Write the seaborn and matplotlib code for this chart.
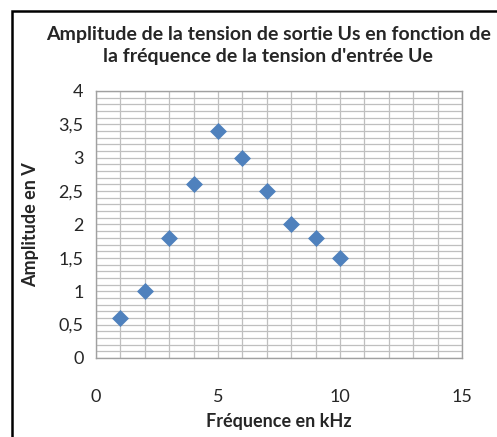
import matplotlib
matplotlib.use("Agg")
import matplotlib.pyplot as plt
from matplotlib.ticker import MultipleLocator, FuncFormatter
from matplotlib.patches import Rectangle
import pandas as pd
import seaborn as sns

frequence = [1, 2, 3, 4, 5, 6, 7, 8, 9, 10]
amplitude = [0.6, 1.0, 1.8, 2.6, 3.4, 3.0, 2.5, 2.0, 1.8, 1.5]

sns.set_style("white")
plt.rcParams['font.family'] = ['Lato', 'DejaVu Sans']

df = pd.DataFrame({'f': frequence, 'a': amplitude})

fig = plt.figure(figsize=(4.97, 4.37), dpi=100)
ax = fig.add_axes([0.1932, 0.1808, 0.7364, 0.611])

sns.scatterplot(data=df, x='f', y='a', marker='D', s=75, color='#4F81BD',
                edgecolor='#4F81BD', linewidth=0, ax=ax, zorder=3)

ax.set_xlim(0, 15)
ax.set_ylim(0, 4)
ax.xaxis.set_major_locator(MultipleLocator(5))
ax.xaxis.set_minor_locator(MultipleLocator(1))
ax.yaxis.set_major_locator(MultipleLocator(0.5))
ax.yaxis.set_minor_locator(MultipleLocator(0.1))
ax.yaxis.set_major_formatter(FuncFormatter(lambda v, p: ('%g' % v).replace('.', ',')))
ax.grid(True, which='both', color='#BFBFBF', linewidth=0.9)
ax.set_axisbelow(True)
for sp in ax.spines.values():
    sp.set_color('#A0A0A0')
    sp.set_linewidth(1)
ax.tick_params(which='both', length=0)
ax.tick_params(axis='x', pad=22, labelsize=13)
ax.tick_params(axis='y', pad=9, labelsize=13)

ax.set_xlabel('Fréquence en kHz', fontsize=13, fontweight='bold', labelpad=6)
ax.set_ylabel('Amplitude en V', fontsize=13, fontweight='bold', labelpad=14)

fig.text(0.54, 0.896, "Amplitude de la tension de sortie Us en fonction de\nla fréquence de la tension d'entrée Ue",
         ha='center', va='center', fontsize=14, fontweight='bold', linespacing=1.35)

fig.patches.append(Rectangle((12 / 497, -0.05), 1.1, 1 - 11 / 437 + 0.05,
                             transform=fig.transFigure, fill=False,
                             edgecolor='black', linewidth=1.8))

fig.savefig('out.png', dpi=100)
